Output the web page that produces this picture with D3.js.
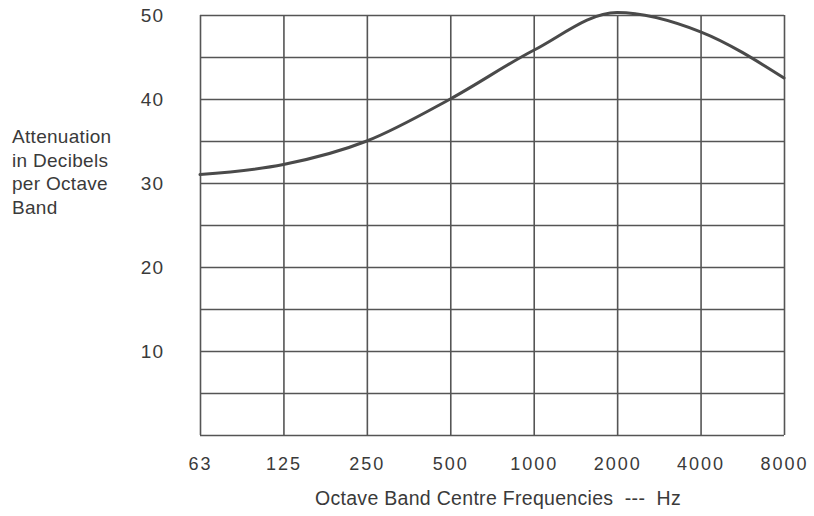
<!DOCTYPE html>
<html>
<head>
<meta charset="utf-8">
<script src="https://cdn.jsdelivr.net/npm/d3@7"></script>
<style>
    body { margin: 0; background: #fff; }
    text { font-family: "Liberation Sans", Arial, sans-serif; fill: #3a3a3a; }
</style>
</head>
<body>
<div id="chart"></div>
<script>
// octave band centre frequencies (Hz)
const frequencies = ['63', '125', '250', '500', '1000', '2000', '4000', '8000']
// attenuation in dB per octave band
const attenuation = [31, 32.2, 35, 40, 45.8, 50.3, 48, 42.5]
// grid every 5 dB, labels every 10 dB (0 has no label)
const gridValues = [0, 5, 10, 15, 20, 25, 30, 35, 40, 45, 50]
const labelValues = [10, 20, 30, 40, 50]
const yTitleLines = ['Attenuation', 'in Decibels', 'per Octave', 'Band']
const xTitle = 'Octave Band Centre Frequencies  ---  Hz'

const margin = { top: 15, right: 30, bottom: 81, left: 200 }
const width = 814 - margin.left - margin.right
const height = 516 - margin.top - margin.bottom

const svg = d3.select('#chart')
    .append('svg')
    .attr('width', 814)
    .attr('height', 516)
    .append('g')
    .attr('transform', `translate(${margin.left}, ${margin.top})`)

const xScale = d3.scalePoint().domain(frequencies).range([0, width])
const yScale = d3.scaleLinear().domain([0, 50]).range([height, 0])

//horizontal grid + y labels
const yaxis = d3.axisLeft(yScale)
    .tickValues(gridValues)
    .tickSize(-width)
    .tickPadding(36)
    .tickFormat(d => labelValues.includes(d) ? d : '')
svg.append('g')
    .attr('class', 'axis y')
    .call(yaxis)
    .call(g => g.select('.domain').remove())
    .call(g => g.selectAll('.tick line').attr('stroke', '#555').attr('stroke-width', 1.6))
    .call(g => g.selectAll('.tick text')
        .style('font-size', '19px')
        .attr('letter-spacing', '1px')
        .attr('fill', '#3a3a3a'))

//vertical grid + x labels
const xaxis = d3.axisBottom(xScale)
    .tickSize(-height)
    .tickPadding(22)
svg.append('g')
    .attr('class', 'axis x')
    .attr('transform', `translate(0, ${height})`)
    .call(xaxis)
    .call(g => g.select('.domain').remove())
    .call(g => g.selectAll('.tick line').attr('stroke', '#555').attr('stroke-width', 1.6))
    .call(g => g.selectAll('.tick text')
        .style('font-size', '18px')
        .attr('letter-spacing', '2px')
        .attr('fill', '#3a3a3a'))

//the curve
const line = d3.line()
    .x((d, i) => xScale(frequencies[i]))
    .y(d => yScale(d))
    .curve(d3.curveMonotoneX)
svg.append('path')
    .datum(attenuation)
    .attr('fill', 'none')
    .attr('stroke', '#4a4a4a')
    .attr('stroke-width', 3)
    .attr('stroke-linejoin', 'round')
    .attr('stroke-linecap', 'round')
    .attr('d', line)

//y title (4 lines at the left)
svg.append('text')
    .attr('x', 12 - margin.left)
    .attr('y', 143 - margin.top)
    .style('font-size', '19px')
    .attr('letter-spacing', '0.3px')
    .selectAll('tspan')
    .data(yTitleLines)
    .join('tspan')
    .attr('x', 12 - margin.left)
    .attr('dy', (d, i) => i === 0 ? 0 : 23.5)
    .text(d => d)

//x title
svg.append('text')
    .attr('x', 498 - margin.left)
    .attr('y', 505 - margin.top)
    .attr('text-anchor', 'middle')
    .style('font-size', '19.5px')
    .style('white-space', 'pre')
    .attr('letter-spacing', '0.3px')
    .text(xTitle)
</script>
</body>
</html>
